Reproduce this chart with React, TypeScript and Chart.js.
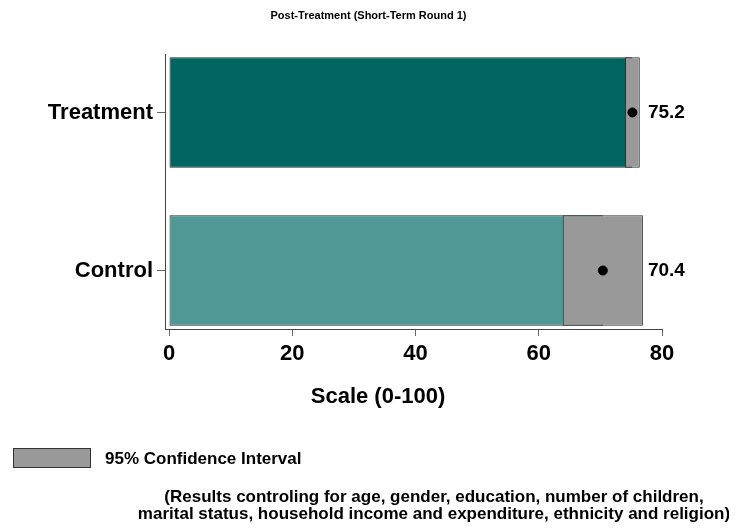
import { useEffect, useRef } from 'react';
import { Chart, registerables } from 'chart.js';

Chart.register(...registerables);

const categories = ['Treatment', 'Control'];
const means = [75.2, 70.4];
const ciLower = [74.0, 63.9];
const ciUpper = [76.4, 76.9];
const xTicks = [0, 20, 40, 60, 80];
const titleText = 'Post-Treatment (Short-Term Round 1)';
const xAxisTitle = 'Scale (0-100)';
const legendLabel = '95% Confidence Interval';
const footnoteLines = [
  '(Results controling for age, gender, education, number of children,',
  'marital status, household income and expenditure, ethnicity and religion)',
];
const barColors = ['#006461', '#4f9896'];

const FONT = '"Liberation Sans", Arial, Helvetica, sans-serif';

export default function App() {
  const canvasRef = useRef<HTMLCanvasElement | null>(null);

  useEffect(() => {
    const canvas = canvasRef.current;
    if (!canvas) return;

    const textPlugin = {
      id: 'textPlugin',
      afterDraw(chart: any) {
        const ctx = chart.ctx as CanvasRenderingContext2D;
        const xs = chart.scales.x;
        const ys = chart.scales.y;
        ctx.save();
        ctx.fillStyle = '#000';
        // main title
        ctx.font = `bold 11px ${FONT}`;
        ctx.textAlign = 'center';
        ctx.textBaseline = 'middle';
        ctx.fillText(titleText, chart.width / 2, 8);
        // value labels
        ctx.font = `bold 19px ${FONT}`;
        ctx.textAlign = 'left';
        const labelX = xs.getPixelForValue(Math.max(...ciUpper)) + 5;
        means.forEach((m, i) => {
          ctx.fillText(m.toFixed(1), labelX, ys.getPixelForValue(i));
        });
        // x axis title
        ctx.font = `bold 22px ${FONT}`;
        ctx.textAlign = 'center';
        ctx.fillText(xAxisTitle, 370, 389);
        // legend
        ctx.fillStyle = '#999999';
        ctx.strokeStyle = '#333';
        ctx.lineWidth = 1;
        ctx.fillRect(5, 440, 78, 20);
        ctx.strokeRect(5.5, 440.5, 77, 19);
        ctx.fillStyle = '#000';
        ctx.font = `bold 17px ${FONT}`;
        ctx.textAlign = 'left';
        ctx.fillText(legendLabel, 97, 451);
        // footnote
        ctx.textAlign = 'center';
        ctx.fillText(footnoteLines[0], 426, 489);
        ctx.fillText(footnoteLines[1], 426, 506);
        ctx.restore();
      },
    };

    const chart = new Chart(canvas, {
      type: 'bar',
      data: {
        datasets: [
          {
            type: 'scatter',
            label: 'Mean',
            data: means.map((m, i) => ({ x: m, y: i })),
            backgroundColor: '#000',
            borderColor: '#000',
            pointRadius: 4.5,
            order: 0,
          } as any,
          {
            label: legendLabel,
            data: ciLower.map((l, i) => ({ x: [l, ciUpper[i]], y: i })),
            backgroundColor: '#999999',
            borderColor: '#333333',
            borderWidth: 1,
            borderSkipped: false,
            grouped: false,
            categoryPercentage: 1,
            barPercentage: 0.7,
            order: 1,
          } as any,
          {
            label: 'Score',
            data: means.map((m, i) => ({ x: m, y: i })),
            backgroundColor: barColors,
            borderColor: '#1a2e2e',
            borderWidth: 1,
            borderSkipped: false,
            grouped: false,
            categoryPercentage: 1,
            barPercentage: 0.7,
            order: 2,
          } as any,
        ],
      },
      options: {
        indexAxis: 'y',
        animation: false,
        responsive: true,
        maintainAspectRatio: false,
        layout: { padding: { top: 46, right: 67, left: 0, bottom: 0 } },
        plugins: {
          legend: { display: false },
          title: { display: false },
          tooltip: { enabled: false },
        },
        scales: {
          x: {
            type: 'linear',
            position: 'bottom',
            min: -0.65,
            max: 80,
            offset: false,
            afterBuildTicks: (s: any) => {
              s.ticks = xTicks.map((v) => ({ value: v }));
            },
            afterFit: (s: any) => {
              s.height = 194;
            },
            grid: { display: true, offset: false, drawOnChartArea: false, drawTicks: true, tickLength: 7, color: '#666' },
            border: { display: true, color: '#444', width: 1 },
            ticks: {
              font: { family: FONT, size: 22, weight: 'bold' },
              color: '#000',
              padding: 5,
              maxRotation: 0,
              autoSkip: false,
            },
          },
          y: {
            type: 'linear',
            position: 'left',
            min: -0.37,
            max: 1.37,
            reverse: true,
            offset: false,
            afterBuildTicks: (s: any) => {
              s.ticks = categories.map((_, i) => ({ value: i }));
            },
            afterFit: (s: any) => {
              s.width = 157;
            },
            grid: { display: true, offset: false, drawOnChartArea: false, drawTicks: true, tickLength: 8, color: '#666' },
            border: { display: true, color: '#444', width: 1 },
            ticks: {
              callback: (v: any) => categories[v] ?? '',
              font: { family: FONT, size: 22, weight: 'bold' },
              color: '#000',
              padding: 4,
              autoSkip: false,
            },
          },
        },
      } as any,
      plugins: [textPlugin],
    });

    return () => chart.destroy();
  }, []);

  return (
    <div style={{ width: 721, height: 515, position: 'relative' }}>
      <canvas ref={canvasRef} />
    </div>
  );
}
